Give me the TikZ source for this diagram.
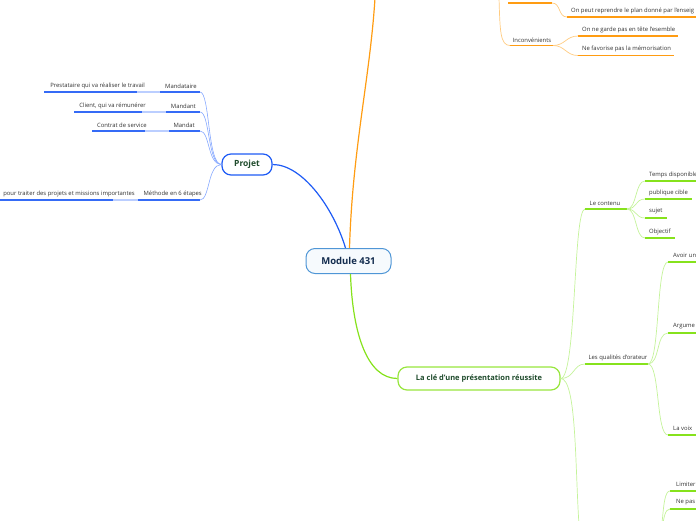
\documentclass[tikz,border=0pt]{standalone}
\usepackage{fontspec}
\setmainfont{Open Sans}
\definecolor{bleu}{HTML}{1E5BF5}
\definecolor{bleuclair}{HTML}{86A8FF}
\definecolor{bleupale}{HTML}{BBCEFF}
\definecolor{orfort}{HTML}{FF9C12}
\definecolor{orclair}{HTML}{FFCB80}
\definecolor{vert}{HTML}{86E21C}
\definecolor{vertclair}{HTML}{C4F39A}
\definecolor{vertfonce}{HTML}{1F4B2C}
\definecolor{marine}{HTML}{132C4E}
\definecolor{ciel}{HTML}{4F96D6}
\begin{document}
\begin{tikzpicture}[x=1pt,y=-1pt,
  lbl/.style={inner sep=0pt,font=\fontsize{5.9}{6.5}\selectfont,text=black!80},
  sujetbox/.style={draw,line width=1.2pt,rounded corners=9pt,fill=white,font=\bfseries\fontsize{8.5}{10}\selectfont,text=vertfonce},
  ulb/.style={bleu!90,line width=1.6pt},
  ulbp/.style={bleupale,line width=1.6pt},
  ulo/.style={orfort,line width=1.4pt},
  ulv/.style={vert,line width=1.4pt},
  brb/.style={bleuclair,line width=0.6pt},
  bro/.style={orclair,line width=0.7pt},
  brv/.style={vertclair,line width=0.7pt}]
\useasboundingbox (0,0) rectangle (696,520);
% centre et sujets principaux
\node[draw=ciel,line width=1pt,rounded corners=9pt,fill=ciel!5,minimum width=85pt,minimum height=25pt,
      font=\bfseries\fontsize{9.5}{11}\selectfont,text=marine] (module) at (348.5,261) {Module 431};
\node[sujetbox,draw=bleu,minimum width=50pt,minimum height=21pt] (projet) at (247,164.5) {Projet};
\node[sujetbox,draw=vert!85,minimum width=162pt,minimum height=23pt,
      font=\bfseries\fontsize{7.5}{9}\selectfont] (cle) at (479,378.5) {La clé d'une présentation réussite};
\coordinate (haut) at (375,-2);
\draw[bleu,line width=1.2pt] ([xshift=-3pt]module.north) .. controls +(-12,-40) and +(30,0) .. (projet.east);
\draw[orfort,line width=1.2pt] ([xshift=1pt]module.north) .. controls +(3,-100) and +(-5,80) .. (haut);
\draw[vert,line width=1.2pt] ([xshift=2pt]module.south) .. controls +(2,60) and +(-30,0) .. (cle.west);
% branche Projet
\foreach \nom/\txt/\ptr/\sous/\str/\y/\a/\b/\c in {
    mandataire/Mandataire/197/Prestataire qui va réaliser le travail/145/92/160/137/44,
    mandant/Mandant/196/{Client, qui va rémunérer}/146/112/166/142/74,
    mandat/Mandat/195/Contrat de service/147/131/169/145/92,
    methode/Méthode en 6 étapes/202/pour traiter des projets et missions importantes/135/200/138/113/0}{
  \coordinate (\nom-r) at (200,\y);
  \node[lbl,anchor=east] (\nom) at (\ptr,\y-6) {\txt};
  \node[lbl,anchor=east] (\nom-s) at (\str,\y-6) {\sous};
  \draw[ulb] (\a,\y) -- (\nom-r);
  \draw[ulbp] (\b,\y) -- (\a,\y);
  \draw[ulb] (\c,\y) -- (\b,\y);
  \draw[brb] (projet.west) .. controls +(-14,0) and +(10,0) .. (\nom-r);
}
% branche orange (haut)
\coordinate (avant-l) at (508,3);
\coordinate (avant) at (552,3);
\coordinate (plan-l) at (567,17);
\draw[ulo] (avant-l) -- (avant);
\node[lbl,anchor=west] (plan) at (571,10.5) {On peut reprendre le plan donné par l'enseig};
\draw[ulo] (plan-l) -- (696,17);
\draw[bro] (avant) .. controls +(9,0) and +(-9,0) .. (plan-l);
\coordinate (haut2) at (499,-2);
\coordinate (inc-l) at (510,45.5);
\coordinate (inc-r) at (553,45.5);
\node[lbl] (inc) at (532,40) {Inconvénients};
\draw[ulo] (inc-l) -- (inc-r);
\draw[bro] (haut2) .. controls (500,30) and (500,45.5) .. (inc-l);
\foreach \nom/\txt/\y in {garde/On ne garde pas en tête l'esemble/36, favorise/Ne favorise pas la mémorisation/55.5}{
  \coordinate (\nom-l) at (578,\y);
  \node[lbl,anchor=west] (\nom) at (582,\y-6.5) {\txt};
  \draw[ulo] (\nom-l) -- ([xshift=3pt]\nom.east |- \nom-l);
  \draw[bro] (inc-r) .. controls +(12,0) and +(-12,0) .. (\nom-l);
}
% branche verte
\coordinate (contenu-l) at (585,209);
\coordinate (contenu-r) at (627,209);
\node[lbl] (contenu) at (605,203) {Le contenu};
\draw[ulv] (contenu-l) -- (contenu-r);
\draw[brv] (cle.east) .. controls +(16,0) and +(-12,0) .. (contenu-l);
\foreach \nom/\txt/\y in {temps/Temps disponible/181, public/publique cible/199, sujet/sujet/218, objectif/Objectif/238}{
  \coordinate (\nom-l) at (645,\y);
  \node[lbl,anchor=west] (\nom) at (649,\y-6.5) {\txt};
  \draw[ulv] (\nom-l) -- ([xshift=4pt]\nom.east |- \nom-l);
  \draw[brv] (contenu-r) .. controls +(10,0) and +(-10,0) .. (\nom-l);
}
\coordinate (qual-l) at (585,364);
\coordinate (qual-r) at (648,364);
\node[lbl] (qual) at (618,357.5) {Les qualités d'orateur};
\draw[ulv] (qual-l) -- (qual-r);
\draw[brv] (cle.east) .. controls +(14,0) and +(-12,0) .. (qual-l);
\foreach \nom/\txt/\y in {avoir/Avoir un/262, argument/Argume/333, voix/La voix/435}{
  \coordinate (\nom-l) at (668,\y);
  \node[lbl,anchor=west] (\nom) at (673,\y-6.5) {\txt};
  \draw[ulv] (\nom-l) -- (700,\y);
  \draw[brv] (qual-r) .. controls +(12,0) and +(-12,0) .. (\nom-l);
}
\coordinate (bas) at (579,525);
\draw[brv] (cle.east) .. controls +(16,0) and +(-4,-60) .. (bas);
\coordinate (bas2) at (655,545);
\foreach \nom/\txt/\y in {limiter/Limiter/491, nepas/Ne pas/509}{
  \coordinate (\nom-l) at (670,\y);
  \node[lbl,anchor=west] (\nom) at (676,\y-6.5) {\txt};
  \draw[ulv] (\nom-l) -- (700,\y);
  \draw[brv] (bas2) .. controls +(10,0) and +(-10,0) .. (\nom-l);
}
\end{tikzpicture}
\end{document}
